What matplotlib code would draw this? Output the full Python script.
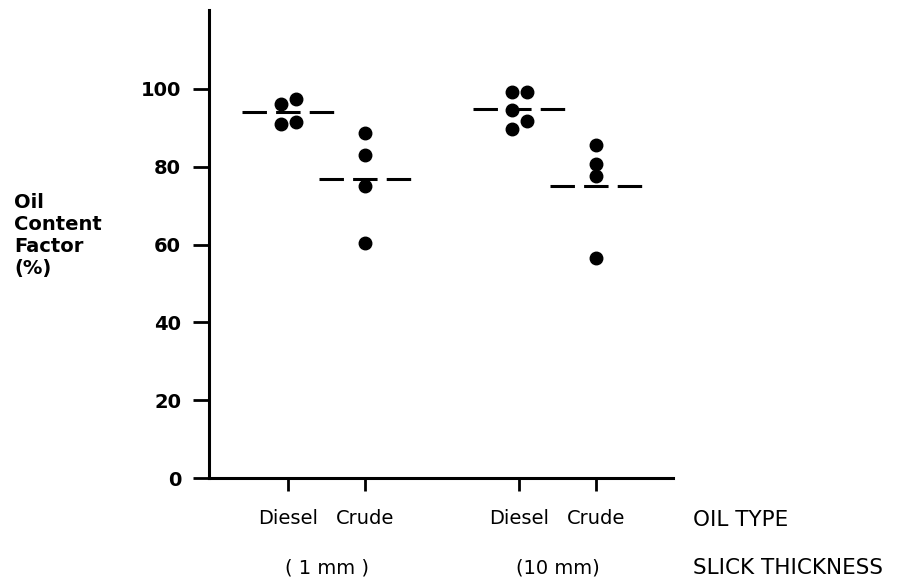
import numpy as np
import matplotlib
matplotlib.use('Agg')
import matplotlib.pyplot as plt
from matplotlib.transforms import blended_transform_factory

# oil content factor (%)
oil_types = ['Diesel', 'Crude', 'Diesel', 'Crude']
thickness = ['( 1 mm )', '(10 mm)']
diesel_1mm = [97.4, 96.2, 91.6, 91.1]
crude_1mm = [88.8, 82.9, 75.0, 60.5]
diesel_10mm = [99.2, 99.2, 91.8, 94.6, 89.8]
crude_10mm = [85.7, 80.6, 77.5, 56.6]
groups = [diesel_1mm, crude_1mm, diesel_10mm, crude_10mm]
yticks = [0, 20, 40, 60, 80, 100]

xpos = [1, 2, 4, 5]

fig = plt.figure(figsize=(9.15, 5.84), dpi=100)
ax = fig.add_axes([0.2284, 0.1815, 0.5071, 0.8014])
ax.set_xlim(-0.03, 6.0)
ax.set_ylim(0, 120.3)

for s in ['top', 'right']:
    ax.spines[s].set_visible(False)
for s in ['left', 'bottom']:
    ax.spines[s].set_linewidth(2.2)

ax.set_yticks(yticks)
ax.set_yticklabels([str(v) for v in yticks], family='DejaVu Sans', weight='bold', fontsize=14)
ax.tick_params(axis='y', length=11.5, width=2, pad=8.5)
ax.set_xticks(xpos)
ax.set_xticklabels(oil_types, family='DejaVu Sans', fontsize=14)
ax.tick_params(axis='x', length=9.5, width=2, pad=13)


def swarm(ypx, step=15, min_dist=11):
    # simple beeswarm in pixel space
    placed = []
    offs = []
    for y in ypx:
        for cand in [0, -step, step, -2 * step, 2 * step]:
            if all(np.hypot(cand - px, y - py) >= min_dist for px, py in placed):
                break
        placed.append((cand, y))
        offs.append(cand)
    offs = np.array(offs, dtype=float)
    return offs - (offs.max() + offs.min()) / 2


inv = ax.transData.inverted()
for x, vals in zip(xpos, groups):
    vals = np.array(vals)
    pts = ax.transData.transform(np.column_stack([np.full(len(vals), x), vals]))
    pts[:, 0] += swarm(pts[:, 1])
    data = inv.transform(pts)
    ax.plot(data[:, 0], data[:, 1], 'o', color='black', markersize=9, clip_on=False)
    m = np.mean(vals)
    ax.plot([x - 0.6, x + 0.6], [m, m], color='black', lw=2.2,
            linestyle=(0, (8, 3)), solid_capstyle='butt', dash_capstyle='butt')

trans = blended_transform_factory(ax.transData, fig.transFigure)
ax.text(1.5, 0.0274, thickness[0], transform=trans, ha='center', va='center',
        family='DejaVu Sans', fontsize=14)
ax.text(4.5, 0.0274, thickness[1], transform=trans, ha='center', va='center',
        family='DejaVu Sans', fontsize=14)

fig.text(0.757, 0.1096, 'OIL TYPE', ha='left', va='center', family='DejaVu Sans', fontsize=15.5)
fig.text(0.757, 0.0274, 'SLICK THICKNESS', ha='left', va='center', family='DejaVu Sans', fontsize=15.5)

fig.text(0.0153, 0.596, 'Oil\nContent\nFactor\n(%)', ha='left', va='center',
         family='DejaVu Sans', weight='bold', fontsize=14, linespacing=1.2)

fig.savefig('out.png', dpi=100)
